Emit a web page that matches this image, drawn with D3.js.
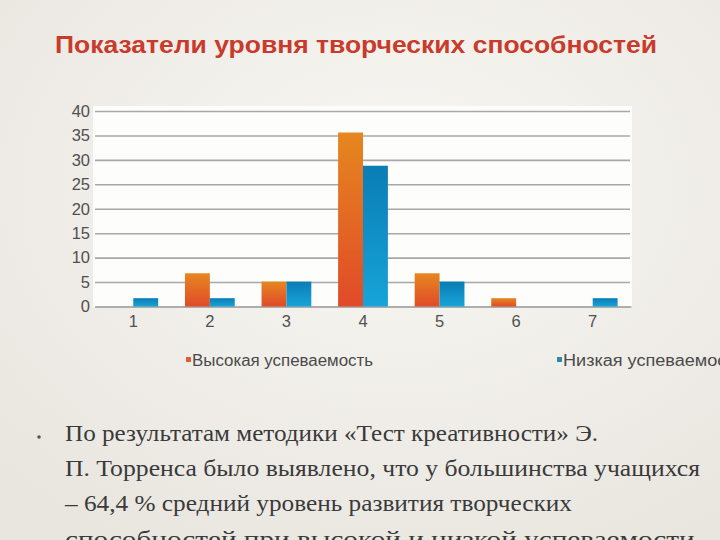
<!DOCTYPE html>
<html><head><meta charset="utf-8">
<script src="https://cdn.jsdelivr.net/npm/d3@7"></script>
<style>html,body{margin:0;padding:0;overflow:hidden;background:#f3f0eb}</style>
</head><body>
<svg id="c" width="720" height="540"></svg>
<script>
const title = "Показатели уровня творческих способностей";
const categories = ["1","2","3","4","5","6","7"];
const seriesNames = ["Высокая успеваемость","Низкая успеваемость"];
const highValues = [0, 6.8, 5.1, 35.6, 6.8, 1.7, 0];
const lowValues = [1.7, 1.7, 5.1, 28.8, 5.1, 0, 1.7];
const yTicks = [0,5,10,15,20,25,30,35,40];
const bodyLines = [
  "По результатам методики «Тест креативности» Э.",
  "П. Торренса было выявлено, что у большинства учащихся",
  "– 64,4 % средний уровень развития творческих",
  "способностей при высокой и низкой успеваемости."
];

const svg = d3.select("#c");
const defs = svg.append("defs");
const bg = defs.append("radialGradient").attr("id","bg").attr("cx","55%").attr("cy","35%").attr("r","75%");
bg.append("stop").attr("offset","0%").attr("stop-color","#f9f7f3");
bg.append("stop").attr("offset","100%").attr("stop-color","#e9e6e0");
const gO = defs.append("linearGradient").attr("id","gO").attr("x1",0).attr("y1",0).attr("x2",0).attr("y2",1);
gO.append("stop").attr("offset","0%").attr("stop-color","#e6871f");
gO.append("stop").attr("offset","100%").attr("stop-color","#e04a29");
const gB = defs.append("linearGradient").attr("id","gB").attr("x1",0).attr("y1",0).attr("x2",0).attr("y2",1);
gB.append("stop").attr("offset","0%").attr("stop-color","#0a7db5");
gB.append("stop").attr("offset","100%").attr("stop-color","#17a4d8");

svg.append("rect").attr("width",720).attr("height",540).attr("fill","url(#bg)");

svg.append("text").attr("x",55).attr("y",53)
  .attr("font-family","Liberation Sans, Arial, sans-serif").attr("font-weight","bold")
  .attr("font-size",24).attr("fill","#c83b2c")
  .attr("textLength",602).attr("lengthAdjust","spacingAndGlyphs").text(title);

const x0 = d3.scaleBand().domain(categories).range([95,631]).paddingInner(0.35).paddingOuter(0.175);
const x1 = d3.scaleBand().domain([0,1]).range([0,x0.bandwidth()]);
const y = d3.scaleLinear().domain([0,40]).range([306.5,111]);

svg.append("rect").attr("x",93).attr("y",106).attr("width",539).attr("height",201).attr("fill","#fdfdfc");

const yAxis = svg.append("g").attr("transform","translate(95,0)")
  .call(d3.axisLeft(y).tickValues(yTicks).tickSize(-535).tickPadding(5));
yAxis.select(".domain").remove();
yAxis.selectAll(".tick line").attr("stroke","#a8a8a8").attr("stroke-width",1.6);
yAxis.selectAll(".tick text").attr("font-family","Liberation Sans, Arial, sans-serif")
  .attr("font-size",16.5).attr("fill","#505050");

const xAxis = svg.append("g").attr("transform","translate(0,306.5)")
  .call(d3.axisBottom(x0).tickSize(0).tickPadding(9));
xAxis.select(".domain").attr("stroke","#a8a8a8").attr("stroke-width",1.6);
xAxis.selectAll(".tick text").attr("font-family","Liberation Sans, Arial, sans-serif")
  .attr("font-size",16.5).attr("fill","#505050");

const rows = categories.map((c,i)=>({c, v:[highValues[i], lowValues[i]]}));
const fills = ["url(#gO)","url(#gB)"];
svg.append("g").selectAll("g").data(rows).join("g")
  .attr("transform",d=>`translate(${x0(d.c)},0)`)
  .selectAll("rect").data(d=>d.v.map((v,k)=>({v,k}))).join("rect")
  .attr("x",d=>x1(d.k)).attr("width",x1.bandwidth())
  .attr("y",d=>y(d.v)).attr("height",d=>y(0)-y(d.v))
  .attr("fill",d=>fills[d.k]);

const legendX = [186, 557];
const legendColors = ["#d9603b","#2a8aa8"];
const lg = svg.append("g").selectAll("g").data(seriesNames).join("g")
  .attr("transform",(d,i)=>`translate(${legendX[i]},366)`);
lg.append("rect").attr("x",0).attr("y",-9).attr("width",5).attr("height",5)
  .attr("fill",(d,i)=>legendColors[i]);
lg.append("text").attr("x",6).attr("y",0).attr("font-family","Liberation Sans, Arial, sans-serif")
  .attr("font-size",16).attr("fill","#4a4a4a")
  .attr("textLength",181).attr("lengthAdjust","spacingAndGlyphs").text(d=>d);

svg.append("circle").attr("cx",39).attr("cy",437).attr("r",1.8).attr("fill","#555");
const lineEnds = [598, 700, 572, 702];
const baselines = [441, 476, 511, 547];
svg.append("g").selectAll("text").data(bodyLines).join("text")
  .attr("x",65).attr("y",(d,i)=>baselines[i])
  .attr("font-family","Liberation Serif, Times New Roman, serif").attr("font-size",24)
  .attr("fill","#3a3a3a")
  .attr("textLength",(d,i)=>lineEnds[i]-65).attr("lengthAdjust","spacingAndGlyphs")
  .text(d=>d);
</script>
</body></html>
